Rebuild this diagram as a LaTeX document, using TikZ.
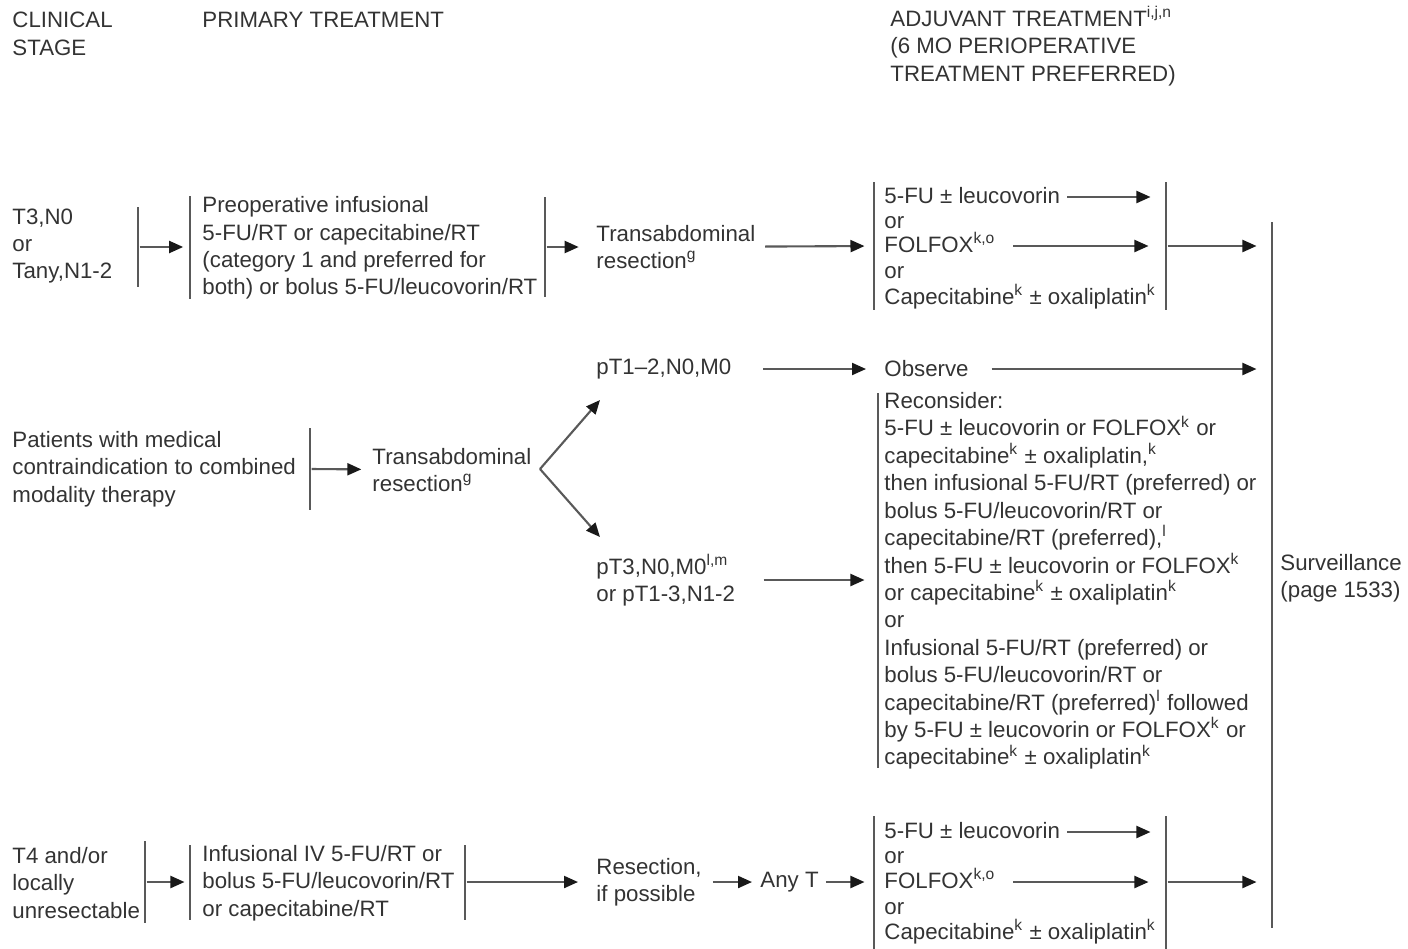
\documentclass[tikz,border=0pt]{standalone}
\usepackage{fontspec}
\setmainfont{Liberation Sans}
\usetikzlibrary{arrows.meta,positioning,calc}
\definecolor{ink}{gray}{0.2}
\definecolor{rule}{gray}{0.35}
\begin{document}
\begin{tikzpicture}[x=0.15mm,y=-0.15mm,font=\fontsize{9.5}{11.7}\selectfont,
txt/.style={anchor=west,inner sep=0pt,align=left,text=ink},
adjl/.style={txt,text height=1.55ex,text depth=0.45ex},
bar/.style={fill=rule,inner sep=0pt,minimum width=0.9pt,minimum height=#1*0.15mm},
arr/.style={draw=rule,line width=0.9pt,-{Triangle[length=2.1mm,width=1.8mm,color=black!90]}}]
\useasboundingbox (0,0) rectangle (1408,948);
% column heads
\node[txt] (hstage) at (12,34) {CLINICAL\\STAGE};
\node[txt] (hprim) at (202,20) {PRIMARY TREATMENT};
\node[txt] (hadj) at (890,46) {ADJUVANT TREATMENT\textsuperscript{i,j,n}\\(6 MO PERIOPERATIVE\\TREATMENT PREFERRED)};
% surveillance
\node[bar=706] (sb) at (1272,575) {};
\node[txt] (surv) at (1280,578) {Surveillance\\(page 1533)};
% T3 row
\node[txt] (st1) at (12,246) {T3,N0\\or\\Tany,N1-2};
\node[bar=80] (b1) at (138,247) {};
\node[bar=103] (b2) at (190,247) {};
\node[txt] (pri1) at (202,248) {Preoperative infusional\\5-FU/RT or capecitabine/RT\\(category 1 and preferred for\\both) or bolus 5-FU/leucovorin/RT};
\node[bar=100] (b3) at (545,247) {};
\node[txt] (res1) at (596,247) {Transabdominal\\resection\textsuperscript{g}};
\node[bar=128] (ab1) at (874,246) {};
\node[adjl] (a1l1) at (884,197) {5-FU ± leucovorin};
\node[adjl] (a1l2) at (884,222) {or};
\node[adjl] (a1l3) at (884,246) {FOLFOX\textsuperscript{k,o}};
\node[adjl] (a1l4) at (884,272) {or};
\node[adjl] (a1l5) at (884,298) {Capecitabine\textsuperscript{k} ± oxaliplatin\textsuperscript{k}};
\node[bar=128] (ab2) at (1166,246) {};
\draw[arr,shorten >=0.8mm] (b1) -- (b2);
\draw[arr,shorten >=2.6mm] (b3) -- (res1);
\draw[arr,shorten <=1.4mm,shorten >=1.2mm] (res1) -- (ab1);
\draw[arr,shorten <=1mm,shorten >=2.1mm] (a1l1.east) -- (a1l1.east -| ab2.west);
\draw[arr,shorten <=2.6mm,shorten >=2.4mm] (a1l3.east) -- (a1l3.east -| ab2.west);
\draw[arr,shorten >=2.1mm] (ab2) -- (ab2 -| sb.west);
% medical contraindication row
\node[txt] (st2) at (12,469) {Patients with medical\\contraindication to combined\\modality therapy};
\node[bar=82] (b4) at (310,469) {};
\node[txt] (res2) at (372,470) {Transabdominal\\resection\textsuperscript{g}};
\coordinate (fork) at (540,469);
\coordinate (upTip) at (600,400);
\coordinate (downTip) at (600,537);
\draw[arr,shorten >=1.6mm] (b4) -- (res2);
\draw[arr] (fork) -- (upTip);
\draw[arr] (fork) -- (downTip);
\node[txt] (pt12) at (596,369) {pT1–2,N0,M0};
\node[txt] (obs) at (884,369) {Observe};
\draw[arr,shorten <=4.7mm,shorten >=2.7mm] (pt12) -- (obs);
\draw[arr,shorten <=3.4mm,shorten >=2.1mm] (obs) -- (obs -| sb.west);
\node[txt] (pt3) at (596,580) {pT3,N0,M0\textsuperscript{l,m}\\or pT1-3,N1-2};
\node[bar=375] (rb) at (878,580) {};
\node[txt] (rec) at (884,581) {Reconsider:\\5-FU ± leucovorin or FOLFOX\textsuperscript{k} or\\capecitabine\textsuperscript{k} ± oxaliplatin,\textsuperscript{k}\\then infusional 5-FU/RT (preferred) or\\bolus 5-FU/leucovorin/RT or\\capecitabine/RT (preferred),\textsuperscript{l}\\then 5-FU ± leucovorin or FOLFOX\textsuperscript{k}\\or capecitabine\textsuperscript{k} ± oxaliplatin\textsuperscript{k}\\or\\Infusional 5-FU/RT (preferred) or\\bolus 5-FU/leucovorin/RT or\\capecitabine/RT (preferred)\textsuperscript{l} followed\\by 5-FU ± leucovorin or FOLFOX\textsuperscript{k} or\\capecitabine\textsuperscript{k} ± oxaliplatin\textsuperscript{k}};
\draw[arr,shorten <=4.2mm,shorten >=1.8mm] (pt3) -- (rb);
% T4 row
\node[txt] (st3) at (12,883) {T4 and/or\\locally\\unresectable};
\node[bar=82] (b5) at (145,882) {};
\node[bar=75] (b6) at (190,882) {};
\node[txt] (pri3) at (202,883) {Infusional IV 5-FU/RT or\\bolus 5-FU/leucovorin/RT\\or capecitabine/RT};
\node[bar=75] (b7) at (465,882) {};
\node[txt] (res3) at (596,882) {Resection,\\if possible};
\node[txt] (anyt) at (760,882) {Any T};
\node[bar=133] (ab3) at (874,882) {};
\node[adjl] (a3l1) at (884,832) {5-FU ± leucovorin};
\node[adjl] (a3l2) at (884,857) {or};
\node[adjl] (a3l3) at (884,882) {FOLFOX\textsuperscript{k,o}};
\node[adjl] (a3l4) at (884,908) {or};
\node[adjl] (a3l5) at (884,933) {Capecitabine\textsuperscript{k} ± oxaliplatin\textsuperscript{k}};
\node[bar=133] (ab4) at (1166,882) {};
\draw[arr,shorten >=0.6mm] (b5) -- (b6);
\draw[arr,shorten >=2.7mm] (b7) -- (res3);
\draw[arr,shorten <=1.6mm,shorten >=1.2mm] (res3) -- (anyt);
\draw[arr,shorten <=1mm,shorten >=1.2mm] (anyt) -- (ab3);
\draw[arr,shorten <=1mm,shorten >=2.1mm] (a3l1.east) -- (a3l1.east -| ab4.west);
\draw[arr,shorten <=2.6mm,shorten >=2.4mm] (a3l3.east) -- (a3l3.east -| ab4.west);
\draw[arr,shorten >=2.1mm] (ab4) -- (ab4 -| sb.west);
\end{tikzpicture}
\end{document}
